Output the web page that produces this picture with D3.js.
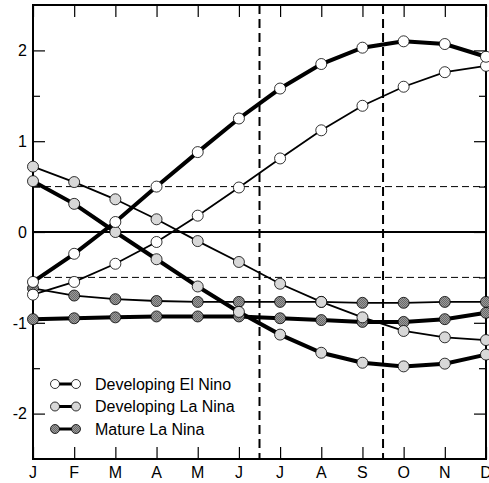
<!DOCTYPE html>
<html>
<head>
<meta charset="utf-8">
<script src="https://cdn.jsdelivr.net/npm/d3@7"></script>
<style>
body { margin: 0; background: #fff; overflow: hidden; }
svg { display: block; font-family: "Liberation Sans", Arial, sans-serif; }
</style>
</head>
<body>
<div id="chart"></div>
<script>
var months = ['J','F','M','A','M','J','J','A','S','O','N','D'];
var yTicks = [-2, -1, 0, 1, 2];
var yMinor = [-1.5, -0.5, 0.5, 1.5];
var refDashed = [-0.5, 0.5];
var seasonBreaks = [5.5, 8.5];

// thick = first index, thin = second
var elNinoThick = [-0.55, -0.24, 0.11, 0.50, 0.88, 1.25, 1.58, 1.85, 2.03, 2.10, 2.07, 1.93];
var elNinoThin  = [-0.69, -0.55, -0.35, -0.11, 0.18, 0.49, 0.81, 1.12, 1.39, 1.60, 1.76, 1.83];
var laNinaThick = [0.56, 0.31, 0.00, -0.30, -0.60, -0.88, -1.13, -1.33, -1.44, -1.48, -1.45, -1.35];
var laNinaThin  = [0.72, 0.55, 0.36, 0.14, -0.10, -0.33, -0.57, -0.77, -0.94, -1.09, -1.16, -1.19];
var matureThick = [-0.96, -0.95, -0.94, -0.93, -0.93, -0.93, -0.95, -0.97, -0.99, -0.99, -0.96, -0.89];
var matureThin  = [-0.62, -0.70, -0.74, -0.76, -0.77, -0.77, -0.77, -0.77, -0.78, -0.78, -0.77, -0.77];

var legendNames = ['Developing El Nino', 'Developing La Nina', 'Mature La Nina'];

var W = 489, H = 483;
var pLeft = 33, pRight = 486, pTop = 5, pBottom = 459;

var svg = d3.select('#chart').append('svg').attr('width', W).attr('height', H);

var defs = svg.append('defs');
var pat = defs.append('pattern').attr('id', 'stip').attr('width', 2).attr('height', 2).attr('patternUnits', 'userSpaceOnUse');
pat.append('rect').attr('width', 2).attr('height', 2).attr('fill', '#9a9a9a');
pat.append('rect').attr('width', 1).attr('height', 1).attr('fill', '#6a6a6a');
pat.append('rect').attr('x', 1).attr('y', 1).attr('width', 1).attr('height', 1).attr('fill', '#6a6a6a');

var x = d3.scaleLinear().domain([0, 11]).range([pLeft, pRight]);
var y = d3.scaleLinear().domain([-2.5, 2.5]).range([pBottom, pTop]);

// reference lines
svg.selectAll('.hd').data(refDashed).enter().append('line')
    .attr('x1', pLeft).attr('x2', pRight).attr('y1', function(d){return y(d);}).attr('y2', function(d){return y(d);})
    .attr('stroke', '#000').attr('stroke-width', 1).attr('stroke-dasharray', '7,4');
svg.append('line').attr('x1', pLeft).attr('x2', pRight).attr('y1', y(0)).attr('y2', y(0))
    .attr('stroke', '#000').attr('stroke-width', 2);
svg.selectAll('.vd').data(seasonBreaks).enter().append('line')
    .attr('x1', function(d){return x(d);}).attr('x2', function(d){return x(d);})
    .attr('y1', pTop).attr('y2', pBottom)
    .attr('stroke', '#000').attr('stroke-width', 2).attr('stroke-dasharray', '9,5');

// axes (ticks inward)
svg.append('g').attr('transform', 'translate(0,' + pBottom + ')').call(d3.axisBottom(x).tickValues(d3.range(12)).tickSizeInner(-12).tickSizeOuter(0).tickFormat(''));
svg.append('g').attr('transform', 'translate(0,' + pTop + ')').call(d3.axisTop(x).tickValues(d3.range(12)).tickSizeInner(-12).tickSizeOuter(0).tickFormat(''));
svg.append('g').attr('transform', 'translate(' + pLeft + ',0)').call(d3.axisLeft(y).tickValues(yTicks).tickSizeInner(-12).tickSizeOuter(0).tickFormat(''));
svg.append('g').attr('transform', 'translate(' + pRight + ',0)').call(d3.axisRight(y).tickValues(yTicks).tickSizeInner(-12).tickSizeOuter(0).tickFormat(''));
svg.append('g').attr('transform', 'translate(' + pLeft + ',0)').call(d3.axisLeft(y).tickValues(yMinor).tickSizeInner(-7).tickSizeOuter(0).tickFormat(''));
svg.append('g').attr('transform', 'translate(' + pRight + ',0)').call(d3.axisRight(y).tickValues(yMinor).tickSizeInner(-7).tickSizeOuter(0).tickFormat(''));
svg.selectAll('.domain').remove();
svg.selectAll('.tick line').attr('stroke', '#000').attr('stroke-width', 1.2);

svg.append('rect').attr('x', pLeft).attr('y', pTop).attr('width', pRight - pLeft).attr('height', pBottom - pTop)
    .attr('fill', 'none').attr('stroke', '#000').attr('stroke-width', 2);

svg.selectAll('.ylab').data(yTicks).enter().append('text')
    .attr('x', 27).attr('y', function(d){return y(d);}).attr('dy', '0.36em')
    .attr('text-anchor', 'end').attr('font-size', 16).text(function(d){return d;});
svg.selectAll('.xlab').data(months).enter().append('text')
    .attr('x', function(d,i){return x(i);}).attr('y', 478)
    .attr('text-anchor', 'middle').attr('font-size', 16).text(function(d){return d;});

var line = d3.line().x(function(d,i){return x(i);}).y(function(d){return y(d);});

var series = [
    {v: matureThin,  w: 1.8, fill: 'url(#stip)'},
    {v: matureThick, w: 4,   fill: 'url(#stip)'},
    {v: laNinaThin,  w: 1.8, fill: '#d8d8d8'},
    {v: laNinaThick, w: 4,   fill: '#d8d8d8'},
    {v: elNinoThin,  w: 1.8, fill: '#fff'},
    {v: elNinoThick, w: 4,   fill: '#fff'}
];

series.forEach(function(s){
    svg.append('path').attr('d', line(s.v)).attr('fill', 'none').attr('stroke', '#000').attr('stroke-width', s.w);
});
series.forEach(function(s){
    svg.selectAll(null).data(s.v).enter().append('circle')
        .attr('cx', function(d,i){return x(i);}).attr('cy', function(d){return y(d);})
        .attr('r', 5.5).attr('fill', s.fill).attr('stroke', '#000').attr('stroke-width', 0.8);
});

// legend
var legFills = ['#fff', '#d8d8d8', 'url(#stip)'];
var lg = svg.selectAll('.lg').data(legendNames).enter().append('g')
    .attr('transform', function(d,i){return 'translate(0,' + (384 + i * 22.5) + ')';});
lg.append('line').attr('x1', 55).attr('x2', 76).attr('stroke', '#000').attr('stroke-width', 3);
lg.append('circle').attr('cx', 55).attr('r', 4.5).attr('fill', function(d,i){return legFills[i];}).attr('stroke', '#000').attr('stroke-width', 0.8);
lg.append('circle').attr('cx', 76).attr('r', 4.5).attr('fill', function(d,i){return legFills[i];}).attr('stroke', '#000').attr('stroke-width', 0.8);
lg.append('text').attr('x', 95).attr('dy', '0.36em').attr('font-size', 16).text(function(d){return d;});
</script>
</body>
</html>
